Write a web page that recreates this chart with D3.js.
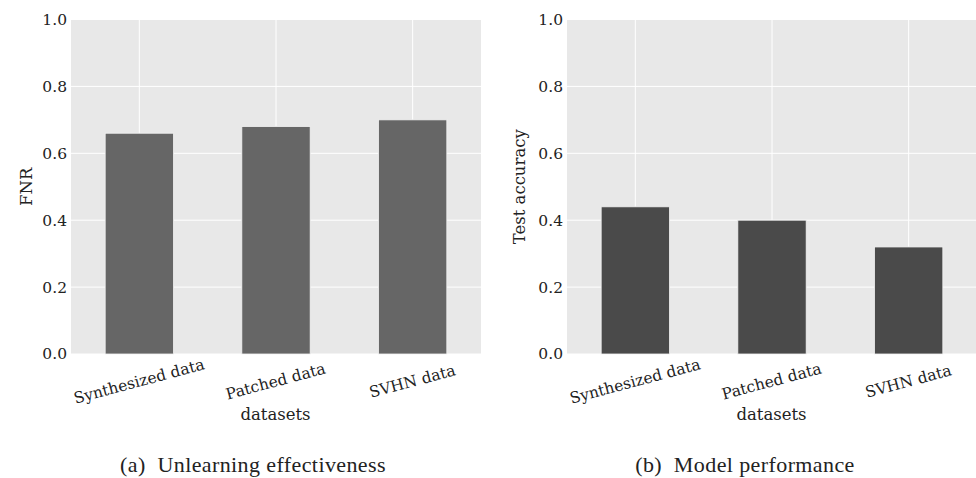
<!DOCTYPE html>
<html>
<head>
<meta charset="utf-8">
<script src="https://cdn.jsdelivr.net/npm/d3@7"></script>
<style>
  body { margin: 0; background: #fff; }
  svg text { font-family: "DejaVu Serif", serif; fill: #222; }
  .caption { font-family: "Liberation Serif", "Times New Roman", serif !important; white-space: pre; }
</style>
</head>
<body>
<div id="chart"></div>
<script>
const categories = ['Synthesized data', 'Patched data', 'SVHN data'];
const fnrValues = [0.66, 0.68, 0.70];
const accValues = [0.44, 0.40, 0.32];
const yTicks = [0, 0.2, 0.4, 0.6, 0.8, 1.0];

const width = 976, height = 478;
const svg = d3.select('#chart').append('svg')
  .attr('width', width)
  .attr('height', height);

const panels = [
  { left: 71, right: 481, values: fnrValues, color: '#666666', ylabel: 'FNR', ylabelX: 32,
    caption: '(a)  Unlearning effectiveness', captionX: 253 },
  { left: 567, right: 977, values: accValues, color: '#4a4a4a', ylabel: 'Test accuracy', ylabelX: 525,
    caption: '(b)  Model performance', captionX: 745 }
];
const plotTop = 19.5, plotBottom = 354;
const tickSize = 15.5, labelSize = 16.5;

panels.forEach(p => {
  const g = svg.append('g');
  const x = d3.scaleBand().domain(categories).range([p.left, p.right]).paddingInner(0.5).paddingOuter(0.25);
  const y = d3.scaleLinear().domain([0, 1]).range([plotBottom, plotTop]);

  g.append('rect')
    .attr('x', p.left).attr('y', plotTop)
    .attr('width', p.right - p.left).attr('height', plotBottom - plotTop)
    .attr('fill', '#e8e8e8');

  // grid
  g.append('g').selectAll('line').data(yTicks).enter().append('line')
    .attr('x1', p.left).attr('x2', p.right)
    .attr('y1', d => y(d)).attr('y2', d => y(d))
    .attr('stroke', '#fff').attr('stroke-width', 1);
  g.append('g').selectAll('line').data(categories).enter().append('line')
    .attr('x1', d => x(d) + x.bandwidth() / 2).attr('x2', d => x(d) + x.bandwidth() / 2)
    .attr('y1', plotTop).attr('y2', plotBottom)
    .attr('stroke', '#fff').attr('stroke-width', 1);

  // bars
  g.append('g').selectAll('rect').data(p.values).enter().append('rect')
    .attr('x', (d, i) => x(categories[i]))
    .attr('y', d => y(d))
    .attr('width', x.bandwidth())
    .attr('height', d => plotBottom - y(d))
    .attr('fill', p.color)
    .attr('stroke', '#f2f2f2').attr('stroke-width', 0.8);

  // y axis
  const yAxis = g.append('g')
    .attr('transform', `translate(${p.left},0)`)
    .call(d3.axisLeft(y).tickValues(yTicks).tickFormat(d3.format('.1f')).tickSize(0).tickPadding(4));
  yAxis.select('.domain').remove();
  yAxis.selectAll('text').attr('font-size', tickSize).attr('fill', '#222');

  // x axis
  const xAxis = g.append('g')
    .attr('transform', `translate(0,${plotBottom})`)
    .call(d3.axisBottom(x).tickSize(0).tickPadding(0));
  xAxis.select('.domain').remove();
  xAxis.selectAll('text')
    .attr('font-size', tickSize).attr('fill', '#222')
    .attr('text-anchor', 'middle')
    .attr('dy', null)
    .attr('y', 0)
    .attr('transform', 'translate(0,28.5) rotate(-15)')
    .attr('dominant-baseline', 'middle');

  g.append('text')
    .attr('x', (p.left + p.right) / 2 - 0.5).attr('y', 420)
    .attr('text-anchor', 'middle').attr('font-size', labelSize)
    .text('datasets');

  g.append('text')
    .attr('transform', `translate(${p.ylabelX},${(plotTop + plotBottom) / 2}) rotate(-90)`)
    .attr('text-anchor', 'middle').attr('font-size', labelSize)
    .text(p.ylabel);

  g.append('text').classed('caption', true)
    .attr('x', p.captionX).attr('y', 472)
    .attr('text-anchor', 'middle').attr('font-size', 22)
    .attr('letter-spacing', 0.4)
    .text(p.caption);
});
</script>
</body>
</html>
